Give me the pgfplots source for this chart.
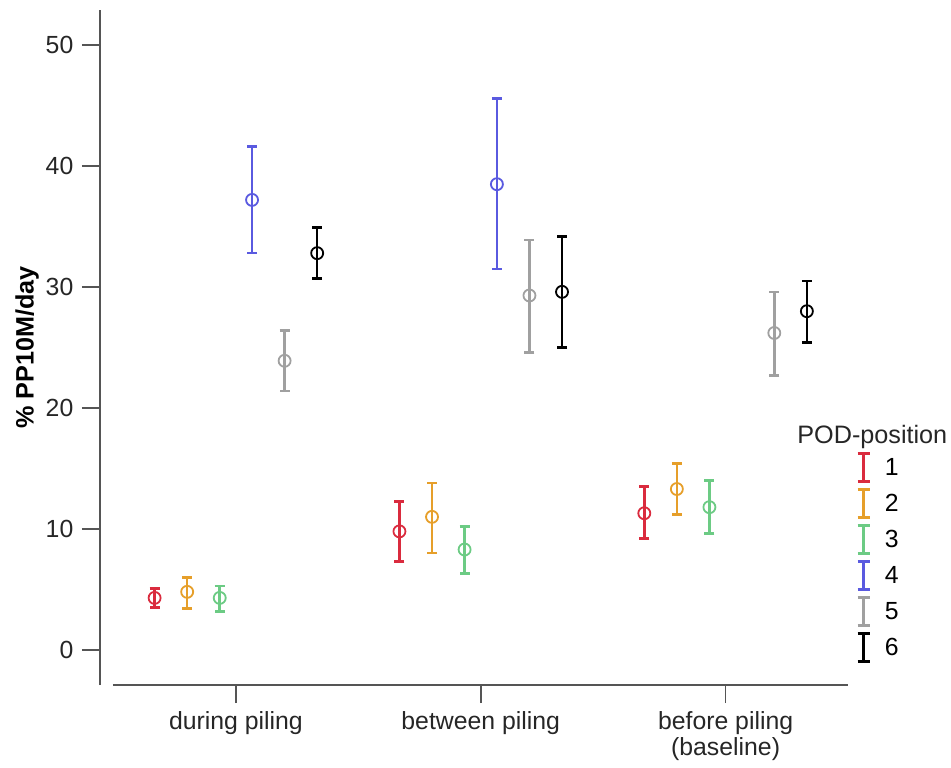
\documentclass[border=0pt]{standalone}
\usepackage{fontspec}
\setmainfont{Liberation Sans}
\usepackage{pgfplots}
\pgfplotsset{compat=1.18}
\usepackage{pgfplotstable}

\definecolor{c1}{HTML}{DA2B3E}
\definecolor{c2}{HTML}{E69F2A}
\definecolor{c3}{HTML}{6CCB84}
\definecolor{c4}{HTML}{5A5AE0}
\definecolor{c5}{HTML}{A0A0A0}
\definecolor{c6}{HTML}{000000}
\definecolor{axc}{HTML}{555555}

% x = category (1 during, 2 between, 3 before) + offset of POD position
\pgfplotstableread{
x y lo hi
0.668 4.3 3.5 5.1
1.668 9.8 7.3 12.25
2.668 11.3 9.2 13.5
}\sone
\pgfplotstableread{
x y lo hi
0.801 4.8 3.4 6.0
1.801 11.0 8.0 13.8
2.801 13.3 11.2 15.4
}\stwo
\pgfplotstableread{
x y lo hi
0.934 4.3 3.2 5.3
1.934 8.3 6.3 10.2
2.934 11.8 9.6 14.0
}\sthree
\pgfplotstableread{
x y lo hi
1.066 37.2 32.8 41.6
2.066 38.5 31.5 45.6
}\sfour
\pgfplotstableread{
x y lo hi
1.199 23.9 21.4 26.4
2.199 29.3 24.6 33.9
3.199 26.2 22.7 29.6
}\sfive
\pgfplotstableread{
x y lo hi
1.332 32.8 30.7 34.9
2.332 29.6 25.0 34.2
3.332 28.0 25.4 30.5
}\ssix

\pgfplotsset{
  podplot/.style={forget plot, only marks, mark=o, color=#1,
    mark options={solid, line width=0.9pt, mark size=3pt},
    error bars/.cd, y dir=both, y explicit,
    error bar style={line width=1.3pt, color=#1},
    error mark options={rotate=90, mark size=2.5pt, line width=1.3pt, color=#1},
    /pgfplots/.cd},
  ibar/.style={legend image code/.code={
    \draw[line width=1.3pt,#1] (0pt,-7pt) -- (0pt,7pt);
    \draw[line width=1.3pt,#1] (-3pt,-7pt) -- (3pt,-7pt);
    \draw[line width=1.3pt,#1] (-3pt,7pt) -- (3pt,7pt);}},
}

\begin{document}
\fontsize{12.4}{14}\selectfont
\begin{tikzpicture}
\path[use as bounding box] (0,0) rectangle (475.5pt,383.5pt);
\begin{axis}[
  at={(50pt,41pt)}, anchor=south west,
  scale only axis, width=374pt, height=337.5pt,
  xmin=0.445, xmax=3.5, ymin=-2.9, ymax=52.9,
  axis x line=bottom, axis y line=left,
  axis line style={-, axc, line width=0.8pt},
  x axis line style={draw=none},
  tick align=outside, major tick length=9pt,
  tick style={axc, line width=0.8pt},
  xtick={1,2,3},
  xticklabels={during piling, between piling, {before piling\\(baseline)}},
  xticklabel style={align=center, font=\fontsize{12.4}{13}\selectfont, text=black!85},
  ytick={0,10,20,30,40,50},
  yticklabel style={font=\fontsize{12.4}{14}\selectfont, text=black!85},
  /pgf/number format/assume math mode=true,
  ylabel={\bfseries\% PP10M/day},
  ylabel style={at={(axis description cs:-0.0976,0.5)}, anchor=center, font=\fontsize{12.6}{14}\selectfont},
  legend style={at={(axis description cs:1.0104,0.3496)}, anchor=north west,
    draw=none, fill=none, inner sep=0pt, column sep=7pt,
    nodes={inner sep=0pt, text height=13pt, text depth=5pt, font=\fontsize{12.4}{14}\selectfont}},
  legend cell align=left,
  clip=false,
]
\draw[axc, line width=0.8pt] (axis cs:0.498,-2.9) -- (axis cs:3.5,-2.9);

\addplot[podplot=c1] table[x=x, y=y, y error plus expr=\thisrow{hi}-\thisrow{y}, y error minus expr=\thisrow{y}-\thisrow{lo}] {\sone};
\addplot[podplot=c2] table[x=x, y=y, y error plus expr=\thisrow{hi}-\thisrow{y}, y error minus expr=\thisrow{y}-\thisrow{lo}] {\stwo};
\addplot[podplot=c3] table[x=x, y=y, y error plus expr=\thisrow{hi}-\thisrow{y}, y error minus expr=\thisrow{y}-\thisrow{lo}] {\sthree};
\addplot[podplot=c4] table[x=x, y=y, y error plus expr=\thisrow{hi}-\thisrow{y}, y error minus expr=\thisrow{y}-\thisrow{lo}] {\sfour};
\addplot[podplot=c5] table[x=x, y=y, y error plus expr=\thisrow{hi}-\thisrow{y}, y error minus expr=\thisrow{y}-\thisrow{lo}] {\sfive};
\addplot[podplot=c6] table[x=x, y=y, y error plus expr=\thisrow{hi}-\thisrow{y}, y error minus expr=\thisrow{y}-\thisrow{lo}] {\ssix};

\addlegendimage{ibar=c1}\addlegendentry{1}
\addlegendimage{ibar=c2}\addlegendentry{2}
\addlegendimage{ibar=c3}\addlegendentry{3}
\addlegendimage{ibar=c4}\addlegendentry{4}
\addlegendimage{ibar=c5}\addlegendentry{5}
\addlegendimage{ibar=c6}\addlegendentry{6}
\end{axis}
\node[anchor=west, inner sep=0pt, font=\fontsize{12.6}{14}\selectfont, text=black!85] at (398.5pt,165pt) {POD-position};
\end{tikzpicture}
\end{document}
